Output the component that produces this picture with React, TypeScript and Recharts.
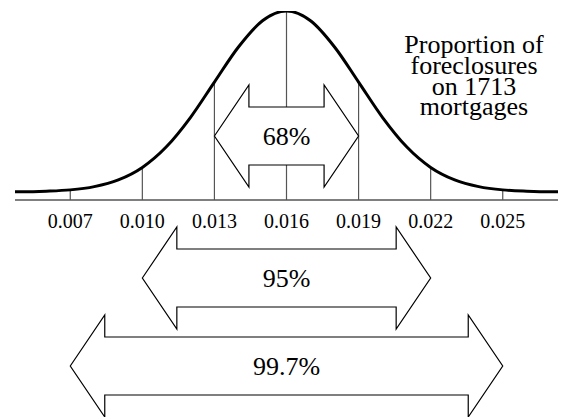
import { ComposedChart, Line, XAxis, YAxis, ReferenceLine, ReferenceArea } from "recharts";

// curve (height, peak = 100)
const CURVE_X = [0.0047, 0.005, 0.006, 0.007, 0.008, 0.009, 0.01, 0.011, 0.012, 0.013, 0.014, 0.015, 0.016,
  0.017, 0.018, 0.019, 0.02, 0.021, 0.022, 0.023, 0.024, 0.025, 0.026, 0.027, 0.0273];
const CURVE_Y = [0.1, 0.1, 0.4, 1.1, 2.9, 6.6, 13.5, 24.9, 41.1, 60.7, 80.1, 94.6, 100,
  94.6, 80.1, 60.7, 41.1, 24.9, 13.5, 6.6, 2.9, 1.1, 0.4, 0.1, 0.1];

const TICKS = [0.007, 0.01, 0.013, 0.016, 0.019, 0.022, 0.025];

const RANGE_LO = [0.013, 0.01, 0.007];
const RANGE_HI = [0.019, 0.022, 0.025];
const RANGE_LABELS = ["68%", "95%", "99.7%"];

const Y_MIN = -4.5;
const ARROW_CY = [136, 278, 366];
const FONT = "'Liberation Serif', 'Times New Roman', serif";

const data = CURVE_X.map((x, i) => ({ x, y: CURVE_Y[i] }));
const heightAt = (t: number) => CURVE_Y[CURVE_X.findIndex((x) => Math.abs(x - t) < 1e-9)];

function arrowShape(label: string, cy: number) {
  return (props: any) => {
    const { x, width: w } = props;
    const hl = 34.5, hh = 51, sh = 29;
    const pts = [
      [x, cy], [x + hl, cy - hh], [x + hl, cy - sh], [x + w - hl, cy - sh], [x + w - hl, cy - hh],
      [x + w, cy], [x + w - hl, cy + hh], [x + w - hl, cy + sh], [x + hl, cy + sh], [x + hl, cy + hh],
    ].map((p) => p.join(",")).join(" ");
    return (
      <g>
        <polygon points={pts} fill="#fff" stroke="#000" strokeWidth={1.2} />
        <text x={x + w / 2} y={cy} textAnchor="middle" dominantBaseline="central"
          fontFamily={FONT} fontSize={26} fill="#000">{label}</text>
      </g>
    );
  };
}

export default function App() {
  return (
    <div style={{ position: "absolute", left: 0, top: 0, width: 566, height: 417, background: "#fff" }}>
      <ComposedChart width={566} height={417} data={data}
        margin={{ top: 11, right: 8, bottom: 187, left: 15 }}>
        <XAxis dataKey="x" type="number" domain={[0.0047, 0.0273]} allowDataOverflow
          ticks={TICKS} tickFormatter={(v: number) => v.toFixed(3)} tickLine={false}
          tickMargin={8} height={30} interval={0}
          axisLine={{ stroke: "#555", strokeWidth: 1.5 }}
          tick={{ fontFamily: FONT, fontSize: 20, fill: "#000" }} />
        <YAxis type="number" domain={[Y_MIN, 100]} hide allowDataOverflow />
        {TICKS.map((t) => (
          <ReferenceLine key={t} segment={[{ x: t, y: Y_MIN }, { x: t, y: heightAt(t) }]}
            stroke="#555" strokeWidth={1.2} />
        ))}
        <Line dataKey="y" type="monotone" stroke="#000" strokeWidth={3} dot={false}
          isAnimationActive={false} />
        {RANGE_LABELS.map((lab, i) => (
          <ReferenceArea key={lab} x1={RANGE_LO[i]} x2={RANGE_HI[i]} y1={Y_MIN} y2={100}
            ifOverflow="visible" zIndex={1500} shape={arrowShape(lab, ARROW_CY[i])} />
        ))}
      </ComposedChart>
      <div style={{ position: "absolute", left: 374, top: 35, width: 200, textAlign: "center",
        fontFamily: FONT, fontSize: 26, lineHeight: "20.8px", color: "#000" }}>
        Proportion of<br />foreclosures<br />on 1713<br />mortgages
      </div>
    </div>
  );
}
